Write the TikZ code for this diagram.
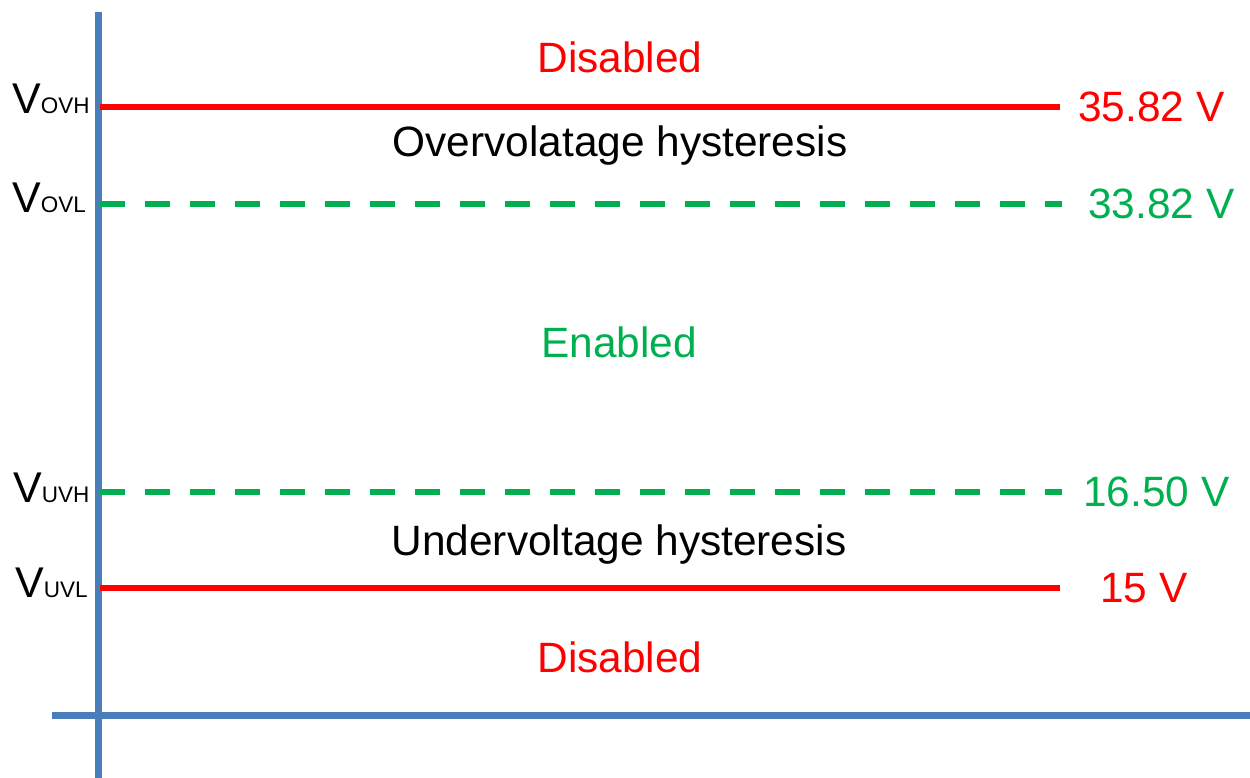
\documentclass[tikz,border=0pt]{standalone}
\usepackage{fontspec}
\setmainfont{Liberation Sans}
\definecolor{axisblue}{HTML}{4A7EBB}
\definecolor{lred}{HTML}{FF0000}
\definecolor{lgreen}{HTML}{00B050}
\begin{document}
\begin{tikzpicture}[x=1pt,y=-1pt,
  txt/.style={inner sep=0pt,font=\fontsize{42.4}{50}\selectfont},
  vlab/.style={inner sep=0pt,anchor=base west,font=\fontsize{43}{50}\selectfont},
  axisline/.style={draw=axisblue,line width=7pt},
  solidlevel/.style={draw=lred,line width=6pt},
  dashlevel/.style={draw=lgreen,line width=6pt,dash pattern=on 25pt off 20pt}]
\useasboundingbox (0,0) rectangle (1250,778);
% axes
\coordinate (ytop) at (98.5,12);
\coordinate (ybot) at (98.5,778);
\coordinate (xl) at (52,715);
\coordinate (xr) at (1250,715);
\draw[axisline] (ytop) -- (ybot);
\draw[axisline] (xl) -- (xr);
% levels
\coordinate (ovhA) at (100,107); \coordinate (ovhB) at (1060,107);
\coordinate (ovlA) at (100,204); \coordinate (ovlB) at (1062,204);
\coordinate (uvhA) at (100,492); \coordinate (uvhB) at (1062,492);
\coordinate (uvlA) at (100,588); \coordinate (uvlB) at (1060,588);
\draw[solidlevel] (ovhA) -- (ovhB);
\draw[dashlevel] (ovlA) -- (ovlB);
\draw[dashlevel] (uvhA) -- (uvhB);
\draw[solidlevel] (uvlA) -- (uvlB);
% left labels
\node[vlab] (lovh) at (12,114) {V{\fontsize{22.5}{24}\selectfont OVH}};
\node[vlab] (lovl) at (12,213) {V{\fontsize{22.5}{24}\selectfont OVL}};
\node[vlab] (luvh) at (13,502) {V{\fontsize{22.5}{24}\selectfont UVH}};
\node[vlab] (luvl) at (15,597) {V{\fontsize{22.5}{24}\selectfont UVL}};
% right values
\node[txt,text=lred,anchor=west] (vovh) at (1078,107) {35.82 V};
\node[txt,text=lgreen,anchor=west] (vovl) at (1088,204) {33.82 V};
\node[txt,text=lgreen,anchor=west] (vuvh) at (1083,492) {16.50 V};
\node[txt,text=lred,anchor=west] (vuvl) at (1100,588) {15 V};
% region labels
\node[txt,text=lred,anchor=base] (dis1) at (620,73) {Disabled};
\node[txt,anchor=base] (ovhys) at (620,157) {Overvolatage hysteresis};
\node[txt,text=lgreen,anchor=base] (en) at (619,357) {Enabled};
\node[txt,anchor=base] (uvhys) at (619,555) {Undervoltage hysteresis};
\node[txt,text=lred,anchor=base] (dis2) at (620,672) {Disabled};
\end{tikzpicture}
\end{document}
